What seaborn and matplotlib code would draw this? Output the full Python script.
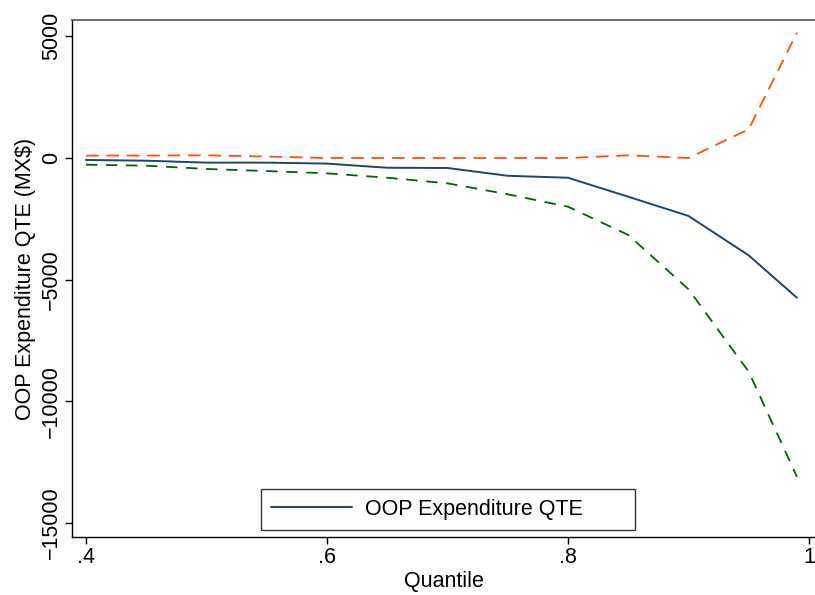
import matplotlib
matplotlib.use("Agg")
import matplotlib.pyplot as plt
import seaborn as sns
import pandas as pd

quantile = [0.40, 0.45, 0.50, 0.55, 0.60, 0.65, 0.70, 0.75, 0.80, 0.85, 0.90, 0.95, 0.99]
qte = [-80, -110, -190, -190, -230, -400, -410, -730, -810, -1590, -2380, -4000, -5740]
upper_ci = [100, 100, 110, 60, 0, 0, 0, 0, 0, 110, 0, 1180, 5150]
lower_ci = [-275, -315, -450, -535, -630, -810, -1040, -1490, -2000, -3160, -5390, -8780, -13090]

x_ticks = [0.4, 0.6, 0.8, 1.0]
x_tick_labels = [".4", ".6", ".8", "1"]
y_ticks = [-15000, -10000, -5000, 0, 5000]

sns.set_theme(style="white")
plt.rcParams["font.family"] = ["Liberation Sans", "DejaVu Sans"]
plt.rcParams["text.color"] = "black"
plt.rcParams["axes.labelcolor"] = "black"
plt.rcParams["xtick.color"] = "black"
plt.rcParams["ytick.color"] = "black"

FS = 15.5

df = pd.DataFrame({"Quantile": quantile, "qte": qte, "upper": upper_ci, "lower": lower_ci})

fig = plt.figure(figsize=(8.15, 5.95), dpi=100)
ax = fig.add_axes([72 / 815, 58 / 595, (815 - 72) / 815, (537 - 20) / 595])

sns.lineplot(data=df, x="Quantile", y="upper", ax=ax, color="#ff4f0f", lw=1.3,
             linestyle=(0, (7, 4.3)), legend=False)
sns.lineplot(data=df, x="Quantile", y="lower", ax=ax, color="#006400", lw=1.3,
             linestyle=(0, (6.3, 4.8)), legend=False)
sns.lineplot(data=df, x="Quantile", y="qte", ax=ax, color="#1a476f", lw=1.4,
             label="OOP Expenditure QTE")

ax.set_xlim(0.3884, 1.005)
ax.set_ylim(-15570, 5670)
ax.set_xticks(x_ticks)
ax.set_xticklabels(x_tick_labels)
ax.set_yticks(y_ticks)
ax.set_yticklabels([f"{v:d}".replace("-", "\u2212") for v in y_ticks], rotation=90, va="center")

ax.tick_params(axis="both", which="major", direction="out", length=5, width=1,
               color="black", labelcolor="black", labelsize=FS, bottom=True, left=True, pad=2)

ax.set_xlabel("Quantile", fontsize=FS, labelpad=2, color="black")
ax.set_ylabel("OOP Expenditure QTE (MX\\$)", fontsize=FS, labelpad=4, color="black")

for s in ["left", "bottom"]:
    ax.spines[s].set_color("black")
    ax.spines[s].set_linewidth(1.0)
ax.spines["top"].set_color("#606060")
ax.spines["top"].set_linewidth(1.3)
ax.spines["right"].set_visible(False)

aw, ah = 815 - 72, 537 - 20
leg = ax.legend(loc="lower left",
                bbox_to_anchor=((261 - 72) / aw, 7 / ah, (635 - 261) / aw, 41 / ah),
                mode="expand", frameon=True, fancybox=False, fontsize=FS,
                handlelength=3.75, borderpad=0.47, handletextpad=0.6, borderaxespad=0)
leg.get_frame().set_edgecolor("black")
leg.get_frame().set_linewidth(1.0)
for t in leg.get_texts():
    t.set_color("black")

fig.savefig("out.png", dpi=100, facecolor="white")
